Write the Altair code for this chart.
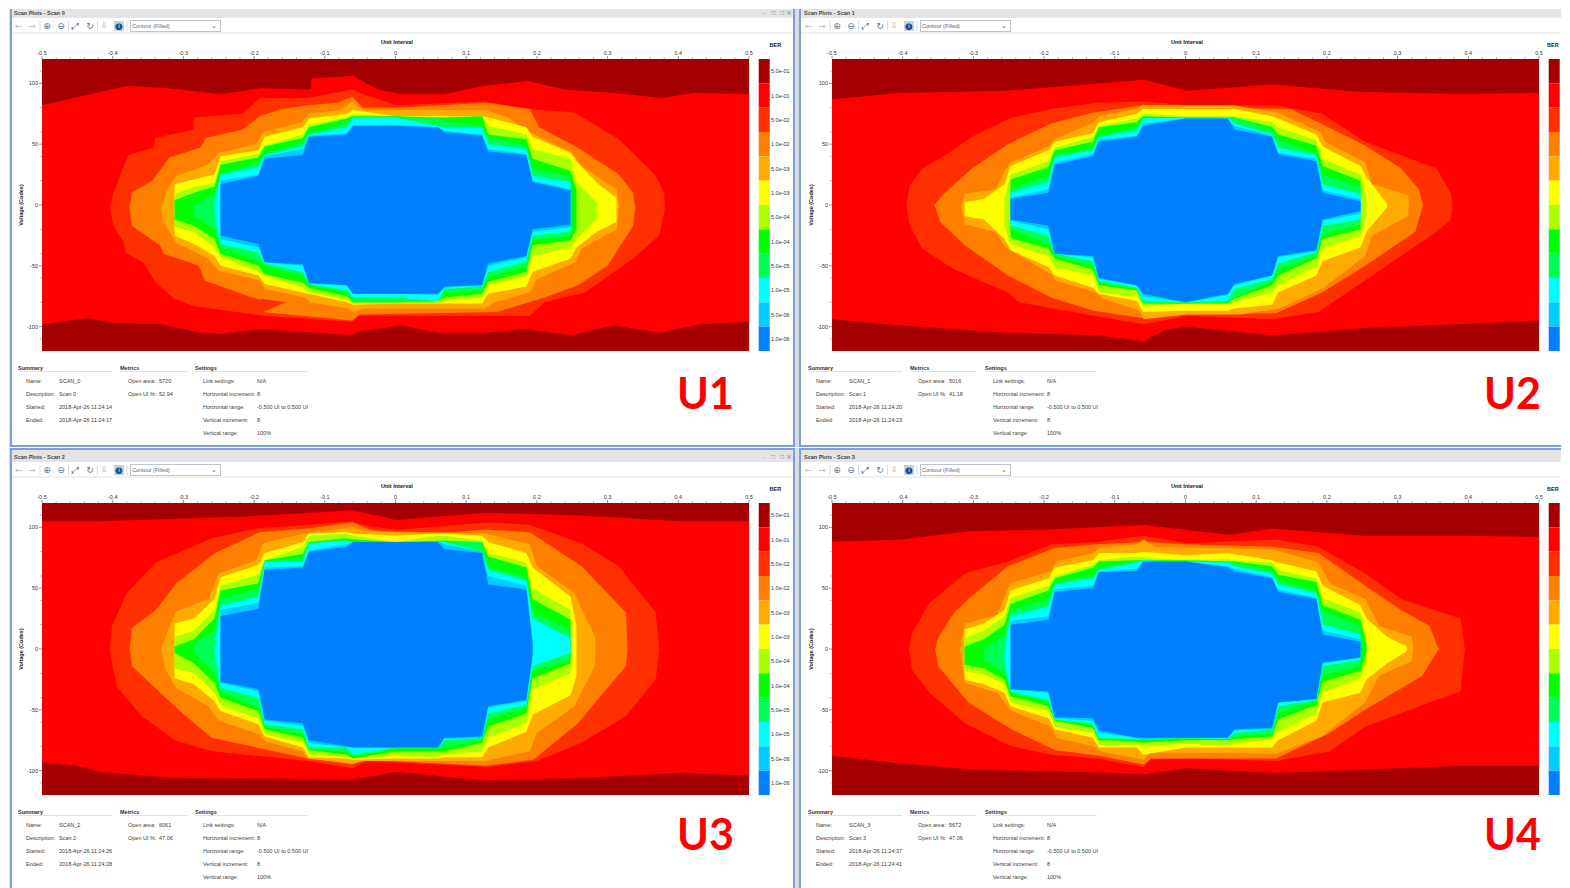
import altair as alt
import pandas as pd

LEVEL_LABELS = ["5.0e-01", "1.0e-01", "5.0e-02", "1.0e-02", "5.0e-03", "1.0e-03",
                "5.0e-04", "1.0e-04", "5.0e-05", "1.0e-05", "5.0e-06", "1.0e-06"]
LEVEL_COLORS = ["#a50000", "#ff0000", "#ff3000", "#ff8000", "#ffaa00", "#ffff00",
                "#aaff00", "#00ff00", "#00ff55", "#00ffff", "#00ccff", "#0080ff"]
X_TICKS = [-0.5, -0.4, -0.3, -0.2, -0.1, 0, 0.1, 0.2, 0.3, 0.4, 0.5]
X_LABELS = ["-0.5", "-0.4", "-0.3", "-0.2", "-0.1", "0", "0.1", "0.2", "0.3", "0.4", "0.5"]
X_MINOR = [-0.48, -0.46, -0.44, -0.42, -0.38, -0.36, -0.34, -0.32, -0.28, -0.26, -0.24, -0.22,
           -0.18, -0.16, -0.14, -0.12, -0.08, -0.06, -0.04, -0.02, 0.02, 0.04, 0.06, 0.08,
           0.12, 0.14, 0.16, 0.18, 0.22, 0.24, 0.26, 0.28, 0.32, 0.34, 0.36, 0.38,
           0.42, 0.44, 0.46, 0.48]
Y_TICKS = [100, 50, 0, -50, -100]
Y_LABELS = ["100", "50", "0", "-50", "-100"]
Y_MINOR = [110, 80, 60, 40, 20, -20, -40, -60, -80, -110]

# unit-interval positions at which the seven inner contours are read
STAIR_X = [-.3125, -.285, -.256, -.2475, -.194, -.185, -.131, -.1225, -.069, -.06, 0,
           .06, .069, .1225, .131, .185, .194, .2475, .256, .285, .3125]

# ---- U1 ---- codes of 1e-3, 5e-4, 1e-4, 5e-5, 1e-5, 5e-6, 1e-6 contours
U1_UP = [[17, 9, 4], [21, 15, 10, 0], [25, 18, 15, 9, 4], [40, 36, 33, 25, 25, 20, 17],
         [45, 42, 39, 36, 31, 25, 24], [56, 49, 48, 42, 41, 40, 38], [64, 58, 55, 52, 48, 46, 41],
         [71, 66, 64, 59, 58, 57, 56], [75, 72, 71, 67, 64, 59, 58], [78, 75, 73, 72, 72, 66, 65],
         [73, 73, 73, 72, 72, 66, 65], [73, 72, 72, 71, 65, 64, 64], [73, 72, 72, 69, 64, 61, 60],
         [73, 73, 73, 65, 64, 58, 57], [72, 65, 58, 56, 50, 46, 44], [64, 58, 54, 49, 46, 42, 41],
         [56, 46, 38, 30, 24, 20, 19], [43, 38, 28, 23, 19, 13, 12], [36, 19, 12], [18, 2], [6]]
U1_LOW = [[-25, -18, -12], [-32, -22, -17, -9], [-42, -35, -28, -20, -9],
          [-50, -43, -40, -35, -32, -28, -25], [-58, -55, -50, -46, -39, -35, -32],
          [-65, -58, -57, -50, -48, -47, -47], [-72, -68, -64, -58, -55, -50, -49],
          [-73, -72, -68, -66, -65, -65, -64], [-80, -78, -75, -72, -70, -66, -66],
          [-82, -81, -80, -80, -76, -73, -73], [-81, -81, -80, -80, -76, -73, -73],
          [-81, -81, -79, -79, -79, -74, -73], [-81, -79, -76, -72, -69, -68, -67],
          [-81, -76, -73, -70, -67, -66, -66], [-73, -66, -63, -59, -55, -50, -48],
          [-67, -59, -55, -51, -46, -43, -42], [-55, -42, -33, -29, -25, -22, -20],
          [-44, -35, -29, -25, -22, -18, -16], [-35, -28, -20], [-22, -12], [-14]]
U1_RED_UP = [(-.404, -3), (-.399, 10), (-.378, 41), (-.342, 47), (-.34, 55), (-.286, 62), (-.285, 72),
             (-.216, 75), (-.192, 88), (-.124, 88), (-.061, 95), (-.046, 91), (.002, 82), (.127, 85),
             (.19, 79), (.253, 76), (.316, 54), (.368, 24), (.38, 10), (.381, -3)]
U1_RED_LOW = [(-.404, -3), (-.399, -17), (-.384, -31), (-.382, -39), (-.357, -47), (-.339, -64), (-.313, -77),
              (-.286, -83), (-.187, -91), (-.061, -96), (-.051, -91), (.143, -91), (.19, -91), (.211, -80),
              (.268, -72), (.336, -44), (.373, -25), (.381, -3)]
U1_ORG_UP = [(-.376, -3), (-.373, 10), (-.344, 20), (-.32, 39), (-.276, 47), (-.268, 55), (-.216, 62), (-.192, 73),
             (-.161, 79), (-.124, 82), (-.082, 84), (-.061, 89), (-.046, 80), (.002, 80), (.127, 84), (.19, 79),
             (.203, 64), (.258, 47), (.316, 25), (.336, 10), (.339, -3)]
U1_ORG_LOW = [(-.376, -3), (-.373, -17), (-.333, -33), (-.328, -40), (-.278, -50), (-.27, -62), (-.208, -75),
              (-.19, -78), (-.189, -88), (-.061, -95), (-.051, -90), (.143, -88), (.211, -76), (.258, -66),
              (.3, -50), (.336, -17), (.339, -3)]
U1_TONGUE = [(-.191, -89, -77), (-.155, -80, -80)]
U1_LIT_UP = [(-.331, -3), (-.325, 10), (-.31, 24), (-.265, 33), (-.25, 43), (-.197, 50), (-.187, 60), (-.132, 68),
             (-.124, 75), (-.077, 78), (-.061, 85), (-.046, 78), (.127, 78), (.159, 72), (.189, 60), (.25, 43),
             (.263, 32), (.313, 13), (.316, -3)]
U1_LIT_LOW = [(-.331, -3), (-.328, -14), (-.31, -31), (-.265, -44), (-.25, -54), (-.192, -62), (-.184, -69),
              (-.129, -76), (-.121, -80), (-.066, -85), (-.059, -88), (-.046, -85), (.127, -85), (.14, -80),
              (.19, -72), (.2, -61), (.255, -47), (.263, -36), (.313, -20), (.316, -3)]
U1_DARK_UP = [(-.5, 82), (-.455, 88), (-.378, 98), (-.322, 96), (-.247, 91), (-.19, 96), (-.127, 95), (-.12, 95),
              (-.119, 104), (-.06, 106), (-.025, 95), (.008, 91), (.069, 91), (.125, 98), (.188, 102), (.239, 95),
              (.31, 92), (.376, 88), (.422, 92), (.5, 91)]
U1_DARK_LOW = [(-.5, -98), (-.435, -93), (-.398, -97), (-.332, -98), (-.275, -105), (-.251, -106), (-.19, -102),
               (-.063, -107), (-.052, -104), (.008, -99), (.06, -105), (.125, -105), (.182, -102), (.248, -107),
               (.309, -99), (.373, -105), (.432, -98), (.5, -96)]

# ---- U2 ----
U2_UP = [[2], [5], [17, 5], [32, 25, 21, 14, 10, 6, 5], [45, 36, 31, 24, 19, 13, 10],
         [52, 47, 45, 41, 39, 35, 33], [59, 56, 52, 47, 45, 42, 40], [68, 65, 64, 57, 56, 54, 52],
         [75, 71, 68, 64, 61, 57, 56], [79, 75, 73, 72, 71, 67, 65], [79, 73, 72, 72, 72, 71, 71],
         [79, 73, 72, 72, 72, 71, 71], [79, 73, 72, 72, 67, 65, 62], [73, 68, 64, 62, 58, 57, 56],
         [71, 64, 58, 54, 47, 43, 42], [58, 53, 49, 42, 41, 38, 36], [48, 38, 32, 25, 17, 12, 10],
         [32, 25, 20, 15, 9, 5, 3], [23, 6], [1]]
U2_LOW = [[-9], [-12], [-28, -17], [-37, -32, -27, -20, -17, -13, -12], [-51, -42, -36, -32, -25, -20, -17],
          [-58, -51, -44, -42, -40, -40, -40], [-68, -58, -53, -51, -46, -43, -42],
          [-73, -72, -66, -64, -62, -61, -60], [-79, -75, -70, -69, -68, -66, -66],
          [-88, -83, -81, -81, -79, -75, -73], [-87, -81, -81, -81, -80, -80, -80],
          [-87, -81, -81, -80, -79, -74, -73], [-85, -80, -77, -76, -69, -66, -65],
          [-82, -72, -66, -63, -61, -58, -58], [-72, -66, -58, -53, -48, -43, -42],
          [-58, -51, -44, -42, -39, -38, -37], [-46, -36, -28, -24, -17, -13, -12],
          [-35, -25, -20, -16, -12, -7, -5], [-22, -9], [-2]]
U2_RED_UP = [(-.395, 0), (-.39, 16), (-.372, 30), (-.337, 42), (-.302, 56), (-.246, 72), (-.19, 79), (-.125, 84),
             (-.059, 85), (.002, 82), (.128, 82), (.193, 75), (.254, 52), (.355, 30), (.375, 10), (.378, 0)]
U2_RED_LOW = [(-.395, 0), (-.39, -17), (-.372, -36), (-.327, -53), (-.251, -72), (-.236, -80), (-.13, -91),
              (-.059, -98), (.002, -91), (.123, -94), (.188, -88), (.244, -66), (.355, -22), (.375, -12), (.378, 0)]
U2_ORG_UP = [(-.355, 0), (-.342, 9), (-.302, 30), (-.251, 50), (-.19, 67), (-.13, 76), (-.059, 82), (.002, 80),
             (.148, 79), (.188, 68), (.254, 49), (.305, 30), (.33, 13), (.336, 0)]
U2_ORG_LOW = [(-.355, 0), (-.347, -14), (-.312, -33), (-.251, -58), (-.19, -76), (-.13, -87), (-.059, -93),
              (.002, -90), (.128, -89), (.193, -72), (.254, -50), (.325, -22), (.336, 0)]
U2_LIT_UP = [(-.317, 0), (-.312, 9), (-.269, 13), (-.256, 28), (-.247, 35), (-.193, 48), (-.185, 54), (-.13, 68),
             (-.122, 73), (-.069, 79), (-.06, 82), (.067, 82), (.13, 76), (.191, 60), (.198, 52), (.254, 35),
             (.264, 17), (.315, 8), (.316, 0)]
U2_LIT_LOW = [(-.317, 0), (-.312, -16), (-.269, -22), (-.254, -35), (-.19, -57), (-.183, -62), (-.127, -72),
              (-.117, -77), (-.064, -87), (-.059, -94), (.002, -90), (.077, -90), (.133, -85), (.193, -69),
              (.254, -42), (.264, -25), (.315, -9), (.316, 0)]
U2_DARK_UP = [(-.5, 87), (-.403, 92), (-.251, 94), (-.059, 103), (.002, 94), (.123, 99), (.244, 93), (.389, 91), (.5, 92)]
U2_DARK_LOW = [(-.5, -94), (-.403, -99), (-.251, -105), (-.125, -107), (-.059, -112), (-.029, -103), (.002, -100),
               (.123, -107), (.254, -101), (.389, -98), (.5, -95)]

# ---- U3 ----
U3_UP = [[21, 10, 2], [25, 15, 8, 4], [41, 32, 25, 15, 2], [59, 52, 48, 42, 36, 32, 27],
         [69, 61, 54, 49, 43, 38, 33], [79, 73, 73, 72, 72, 67, 65], [88, 84, 78, 75, 72, 68, 67],
         [95, 93, 88, 87, 87, 81, 80], [96, 95, 91, 90, 89, 86, 84], [95, 93, 90, 88, 88, 88, 88],
         [93, 88, 88, 88, 88, 88, 88], [95, 93, 89, 88, 88, 88, 88], [95, 93, 89, 88, 88, 86, 82],
         [93, 89, 88, 88, 80, 80, 79], [88, 79, 76, 68, 65, 60, 53], [79, 71, 67, 59, 56, 52, 49],
         [67, 50, 41, 30, 25, 6, 5], [43, 32, 24, 16, 9], [19]]
U3_LOW = [[-24, -16, -3], [-29, -20, -12, -3], [-43, -36, -28, -20, -3], [-51, -46, -40, -35, -32, -28, -27],
          [-62, -57, -51, -48, -40, -35, -33], [-72, -70, -66, -64, -62, -59, -58],
          [-81, -77, -73, -70, -66, -63, -61], [-89, -87, -83, -82, -81, -77, -75],
          [-90, -89, -87, -85, -81, -81, -80], [-91, -90, -90, -88, -87, -81, -81],
          [-90, -88, -84, -82, -81, -81, -81], [-90, -89, -84, -82, -81, -81, -81],
          [-89, -87, -84, -81, -75, -74, -73], [-89, -84, -77, -75, -73, -73, -72],
          [-81, -73, -64, -58, -53, -48, -47], [-68, -61, -53, -48, -46, -43, -42],
          [-54, -33, -24, -18, -14, -6, -5], [-38, -20, -12, -9, -3], [-22]]
U3_RED_UP = [(-.404, 0), (-.401, 19), (-.38, 46), (-.339, 71), (-.26, 91), (-.197, 99), (-.124, 102), (-.061, 105),
             (-.04, 101), (.002, 98), (.132, 104), (.19, 102), (.263, 87), (.316, 68), (.368, 30), (.373, 0)]
U3_RED_LOW = [(-.404, 0), (-.401, -12), (-.394, -31), (-.359, -55), (-.312, -75), (-.26, -84), (-.124, -92),
              (-.061, -98), (-.04, -92), (.132, -97), (.2, -92), (.263, -77), (.326, -55), (.368, -25), (.373, 0)]
U3_ORG_UP = [(-.376, 0), (-.373, 17), (-.339, 32), (-.31, 54), (-.255, 79), (-.192, 96), (-.124, 99), (-.061, 104),
             (-.04, 99), (.002, 93), (.127, 98), (.19, 96), (.263, 68), (.326, 30), (.328, 0)]
U3_ORG_LOW = [(-.376, 0), (-.373, -14), (-.307, -50), (-.26, -73), (-.124, -90), (-.061, -95), (-.04, -91),
              (.127, -96), (.195, -91), (.258, -61), (.326, -14), (.328, 0)]
U3_LIT_UP = [(-.331, 0), (-.325, 10), (-.31, 31), (-.265, 41), (-.25, 62), (-.197, 73), (-.187, 87), (-.129, 95),
             (-.061, 100), (-.046, 97), (.127, 95), (.19, 86), (.2, 68), (.253, 46), (.282, 10), (.283, 0)]
U3_LIT_LOW = [(-.331, 0), (-.325, -17), (-.31, -32), (-.265, -47), (-.25, -59), (-.192, -70), (-.184, -76),
              (-.132, -84), (-.124, -90), (-.061, -94), (-.046, -92), (.127, -92), (.19, -84), (.2, -69),
              (.253, -47), (.282, -14), (.283, 0)]
U3_DARK_UP = [(-.5, 105), (-.417, 105), (-.208, 109), (-.061, 114), (.002, 106), (.127, 112), (.253, 110), (.403, 105), (.5, 105)]
U3_DARK_LOW = [(-.5, -93), (-.45, -96), (-.417, -101), (-.312, -106), (-.061, -107), (.002, -101), (.127, -108),
               (.263, -106), (.403, -102), (.5, -104)]

# ---- U4 ----
U4_UP = [[16, 9, 2], [21, 15, 8, 0], [32, 27, 20, 12, 0], [48, 42, 37, 32, 27, 23, 20],
         [58, 52, 48, 41, 35, 27, 24], [67, 60, 58, 54, 53, 49, 47], [73, 69, 67, 61, 58, 52, 50],
         [79, 73, 72, 67, 65, 64, 63], [79, 76, 73, 73, 71, 66, 64], [80, 75, 73, 73, 73, 72, 72],
         [77, 73, 73, 72, 72, 72, 72], [79, 74, 72, 72, 71, 68, 67], [78, 73, 72, 71, 68, 66, 64],
         [73, 71, 68, 65, 62, 59, 58], [71, 65, 61, 57, 53, 49, 47], [64, 58, 55, 48, 46, 42, 41],
         [52, 42, 36, 31, 20, 15, 12], [36, 30, 24, 19, 12, 8, 6], [25, 8, 4], [10], [2]]
U4_LOW = [[-25, -18, -13], [-29, -21, -16, -9], [-36, -29, -25, -20, -12],
          [-47, -44, -39, -36, -35, -33, -33], [-57, -51, -47, -43, -42, -36, -35],
          [-66, -64, -59, -58, -58, -57, -56], [-73, -69, -65, -63, -61, -59, -57],
          [-81, -79, -75, -74, -73, -69, -67], [-81, -79, -76, -75, -74, -73, -73],
          [-87, -80, -77, -75, -74, -74, -73], [-81, -78, -75, -74, -73, -73, -73],
          [-81, -79, -75, -74, -74, -73, -73], [-81, -78, -74, -72, -69, -67, -66],
          [-81, -74, -72, -70, -66, -66, -65], [-75, -68, -58, -53, -47, -44, -44],
          [-59, -53, -46, -43, -42, -41, -41], [-44, -36, -27, -22, -14, -12, -11],
          [-36, -24, -18, -14, -9, -7, -7], [-25, -12, -3], [-12], [-2]]
U4_RED_UP = [(-.391, 0), (-.387, 13), (-.362, 38), (-.312, 62), (-.251, 72), (-.19, 86), (-.125, 88), (-.059, 93),
             (.002, 87), (.128, 90), (.188, 84), (.254, 62), (.305, 41), (.389, 25), (.395, 0)]
U4_RED_LOW = [(-.391, 0), (-.387, -17), (-.362, -36), (-.312, -61), (-.251, -79), (-.19, -87), (-.125, -90),
              (-.059, -97), (-.049, -91), (.002, -90), (.128, -92), (.204, -84), (.254, -64), (.355, -42),
              (.389, -35), (.395, 0)]
U4_ORG_UP = [(-.354, 0), (-.35, 9), (-.327, 30), (-.307, 41), (-.251, 68), (-.185, 83), (-.125, 86), (-.059, 88),
             (.002, 86), (.123, 84), (.188, 79), (.254, 52), (.305, 32), (.345, 19), (.358, 0)]
U4_ORG_LOW = [(-.354, 0), (-.35, -14), (-.307, -44), (-.246, -66), (-.185, -83), (-.12, -88), (-.059, -95),
              (-.049, -90), (.128, -90), (.204, -69), (.254, -50), (.335, -22), (.358, 0)]
U4_LIT_UP = [(-.319, 0), (-.312, 21), (-.266, 28), (-.248, 54), (-.19, 64), (-.183, 72), (-.13, 79), (-.122, 83),
             (-.069, 86), (-.059, 90), (-.044, 84), (.123, 82), (.188, 71), (.204, 54), (.254, 41), (.274, 19),
             (.32, 10), (.322, 0)]
U4_LIT_LOW = [(-.319, 0), (-.312, -28), (-.266, -36), (-.246, -51), (-.19, -64), (-.183, -73), (-.13, -80),
              (-.12, -84), (-.059, -91), (-.049, -85), (.128, -86), (.193, -72), (.254, -44), (.274, -22),
              (.32, -10), (.322, 0)]
U4_DARK_UP = [(-.5, 88), (-.403, 90), (-.302, 97), (-.2, 98), (-.059, 102), (.062, 94), (.123, 99), (.254, 93), (.389, 93), (.5, 92)]
U4_DARK_LOW = [(-.5, -88), (-.403, -94), (-.302, -99), (-.15, -101), (-.059, -103), (.002, -98), (.128, -102),
               (.254, -99), (.389, -96), (.5, -96)]

SCANS = [
    dict(n=0, tag="U1", area="5720", ui="52.94", start="11:24:14", end="11:24:17", hr="-0.500 UI to 0.500 UI",
         up=U1_UP, low=U1_LOW, outer=[(U1_RED_UP, U1_RED_LOW), (U1_ORG_UP, U1_ORG_LOW), (U1_LIT_UP, U1_LIT_LOW)],
         dark=(U1_DARK_UP, U1_DARK_LOW), tongue=U1_TONGUE),
    dict(n=1, tag="U2", area="5016", ui="41.18", start="11:24:20", end="11:24:23", hr="-0.500 UI to 0.500 UI",
         up=U2_UP, low=U2_LOW, outer=[(U2_RED_UP, U2_RED_LOW), (U2_ORG_UP, U2_ORG_LOW), (U2_LIT_UP, U2_LIT_LOW)],
         dark=(U2_DARK_UP, U2_DARK_LOW)),
    dict(n=2, tag="U3", area="6061", ui="47.06", start="11:24:26", end="11:24:28", hr="-0.500 UI to 0.500 UI",
         up=U3_UP, low=U3_LOW, outer=[(U3_RED_UP, U3_RED_LOW), (U3_ORG_UP, U3_ORG_LOW), (U3_LIT_UP, U3_LIT_LOW)],
         dark=(U3_DARK_UP, U3_DARK_LOW)),
    dict(n=3, tag="U4", area="5672", ui="47.06", start="11:24:37", end="11:24:41", hr="-0.500 UI to 0.500 UI",
         up=U4_UP, low=U4_LOW, outer=[(U4_RED_UP, U4_RED_LOW), (U4_ORG_UP, U4_ORG_LOW), (U4_LIT_UP, U4_LIT_LOW)],
         dark=(U4_DARK_UP, U4_DARK_LOW)),
]

W, H = 707, 292
COL_X = [41, 831]
ROW_Y = [58, 502]
PAGE_RIGHT = 1560
FONT = "Liberation Sans"
XS = alt.Scale(domain=[-0.5, 0.5], nice=False, zero=False)
YS = alt.Scale(domain=[-120, 120], nice=False, zero=False)


def ux(vx):  # view pixels to the plot's own scale, for window furniture only
    return vx / W - 0.5


def uy(vy):
    return 120 - vy / H * 240


X_PLAIN = alt.X("x:Q", scale=XS, axis=None)
Y_PLAIN = alt.Y("y:Q", scale=YS, axis=None)


def contour(rows_up, rows_low, color):
    recs = []
    for half, pts, base in (("u", rows_up, -0.4), ("l", rows_low, 0.4)):
        for x, y in pts:
            recs.append(dict(x=x, y=y, b=base, half=half))
    return alt.Chart(pd.DataFrame(recs)).mark_area(color=color, opacity=1).encode(
        x=X_PLAIN, y=Y_PLAIN, y2="b:Q", detail="half:N")


def dark(pts, base, color):
    df = pd.DataFrame([dict(x=x, y=y, b=base) for x, y in pts])
    return alt.Chart(df).mark_area(color=color, opacity=1).encode(
        x=X_PLAIN, y=Y_PLAIN, y2="b:Q")


def patch(pts, color):
    df = pd.DataFrame([dict(x=x, y=y, b=b) for x, y, b in pts])
    return alt.Chart(df).mark_area(color=color, opacity=1).encode(
        x=X_PLAIN, y=Y_PLAIN, y2="b:Q")


def stair(up, low, idx):
    def pick(rows):
        return [(STAIR_X[k], r[idx]) for k, r in enumerate(rows) if idx < len(r)]
    return pick(up), pick(low)


def rects(items):
    df = pd.DataFrame([dict(x=ux(a), x2=ux(b), y=uy(c), y2=uy(d), c=e) for a, b, c, d, e in items])
    return alt.Chart(df).mark_rect(opacity=1).encode(
        x=X_PLAIN, x2="x2:Q", y=Y_PLAIN, y2="y2:Q",
        color=alt.Color("c:N", scale=None, legend=None))


def texts(items, font=FONT, weight="normal", align="left", angle=None):
    df = pd.DataFrame([dict(x=ux(a), y=uy(b), t=c, c=d, s=e) for a, b, c, d, e in items])
    kw = dict(font=font, fontWeight=weight, align=align, baseline="middle")
    if angle is not None:
        kw["angle"] = angle
    return alt.Chart(df).mark_text(**kw).encode(
        x=X_PLAIN, y=Y_PLAIN, text="t:N",
        color=alt.Color("c:N", scale=None, legend=None),
        size=alt.Size("s:Q", scale=None, legend=None))


def panel(s):
    col = s["n"] % 2
    row = s["n"] // 2
    ox, oy = COL_X[col], ROW_Y[row]
    px, py = (lambda v: v - ox), (lambda v: v - oy)
    top = 8 if row == 0 else 447
    bottom = 446 if row == 0 else 888
    left = 8 if col == 0 else 795
    right = 797 if col == 0 else PAGE_RIGHT
    fl = 9 if col == 0 else 798
    fr = 794 if col == 0 else PAGE_RIGHT
    il = fl + 2
    ir = fr - 2 if col == 0 else PAGE_RIGHT
    bar = top if row == 0 else top + 2
    dy = 0 if row == 0 else 444
    dx = 0 if col == 0 else 790
    ib = 444 if row == 0 else 888
    chrome = [
        (px(left), px(right), py(top), py(bottom), "#d9dde6"),
        (px(fl), px(fr), py(top), py(ib + (2 if row == 0 else 0)), "#7f9fd6"),
        (px(il), px(ir), py(bar), py(ib), "#ffffff"),
        (px(il), px(ir), py(bar), py(17 + dy), "#e4e4e4"),
        (px(il), px(ir), py(31 + dy), py(33 + dy), "#f1f1f1"),
        (px(38.5 + dx), px(39.5 + dx), py(20 + dy), py(30 + dy), "#dddddd"),
        (px(67 + dx), px(68 + dx), py(20 + dy), py(30 + dy), "#dddddd"),
        (px(96 + dx), px(97 + dx), py(20 + dy), py(30 + dy), "#dddddd"),
        (px(125.5 + dx), px(126.5 + dx), py(20 + dy), py(30 + dy), "#dddddd"),
        (px(113 + dx), px(123 + dx), py(20 + dy), py(30 + dy), "#c9d3e0"),
        (px(129 + dx), px(220 + dx), py(19 + dy), py(31 + dy), "#bcc4cf"),
        (px(130 + dx), px(219 + dx), py(20 + dy), py(30 + dy), "#ffffff"),
        (px(17 + dx), px(111 + dx), py(370 + dy), py(371 + dy), "#e2e2e2"),
        (px(119 + dx), px(186 + dx), py(370 + dy), py(371 + dy), "#e2e2e2"),
        (px(194 + dx), px(306 + dx), py(370 + dy), py(371 + dy), "#e2e2e2"),
    ]
    layers = [rects(chrome)]

    base = pd.DataFrame(dict(x=[-0.5], x2=[0.5], y=[-120], y2=[120]))
    layers.append(alt.Chart(base).mark_rect(color=LEVEL_COLORS[1], opacity=1).encode(
        x=X_PLAIN, x2="x2:Q", y=Y_PLAIN, y2="y2:Q"))

    # ticks and tick labels, through the same scales as the contours
    layers.append(alt.Chart(pd.DataFrame(dict(x=X_MINOR))).mark_rule(color="#999999", strokeWidth=0.7).encode(
        x=X_PLAIN, y=alt.value(-2), y2=alt.value(0)))
    layers.append(alt.Chart(pd.DataFrame(dict(y=Y_MINOR))).mark_rule(color="#999999", strokeWidth=0.7).encode(
        y=Y_PLAIN, x=alt.value(-2), x2=alt.value(0)))
    layers.append(alt.Chart(pd.DataFrame(dict(x=X_TICKS))).mark_rule(color="#777777", strokeWidth=0.8).encode(
        x=X_PLAIN, y=alt.value(-3), y2=alt.value(0)))
    layers.append(alt.Chart(pd.DataFrame(dict(y=Y_TICKS))).mark_rule(color="#777777", strokeWidth=0.8).encode(
        y=Y_PLAIN, x=alt.value(-3), x2=alt.value(0)))
    xl = pd.DataFrame(dict(x=X_TICKS, t=X_LABELS, y=[uy(-6.5)] * len(X_TICKS)))
    layers.append(alt.Chart(xl).mark_text(font=FONT, fontSize=5.5, color="#333333", align="center",
                                          baseline="middle").encode(x=X_PLAIN, y=Y_PLAIN, text="t:N"))
    yl = pd.DataFrame(dict(y=Y_TICKS, t=Y_LABELS, x=[ux(-4)] * len(Y_TICKS)))
    layers.append(alt.Chart(yl).mark_text(font=FONT, fontSize=5.5, color="#333333", align="right",
                                          baseline="middle").encode(x=X_PLAIN, y=Y_PLAIN, text="t:N"))

    for k, (u, l) in enumerate(s["outer"]):
        layers.append(contour(u, l, LEVEL_COLORS[2 + k]))
        if k == 1 and "tongue" in s:
            layers.append(patch(s["tongue"], LEVEL_COLORS[2]))
    for k in range(7):
        u, l = stair(s["up"], s["low"], k)
        layers.append(contour(u, l, LEVEL_COLORS[5 + k]))
    layers.append(dark(s["dark"][0], 120, LEVEL_COLORS[0]))
    layers.append(dark(s["dark"][1], -120, LEVEL_COLORS[0]))

    n = len(LEVEL_LABELS)
    step = 240 / n
    bar_df = pd.DataFrame(dict(
        lab=LEVEL_LABELS,
        c=LEVEL_COLORS,
        x=[ux(716.7)] * n, x2=[ux(727.7)] * n, tx=[ux(729)] * n,
        y=[120 - i * step for i in range(n)],
        y2=[120 - (i + 1) * step for i in range(n)],
        mid=[120 - (i + .5) * step for i in range(n)]))
    layers.append(alt.Chart(bar_df).mark_rect(opacity=1).encode(
        x=X_PLAIN, x2="x2:Q", y=Y_PLAIN, y2="y2:Q",
        color=alt.Color("c:N", scale=None, legend=None)))
    if col == 0:
        layers.append(alt.Chart(bar_df).mark_text(
            align="left", baseline="middle", font=FONT, fontSize=5.5, color="#333333").encode(
            x=alt.X("tx:Q", scale=XS, axis=None), y=alt.Y("mid:Q", scale=YS, axis=None), text="lab:N"))

    g = "#3c3c3c"
    lines = [
        (px(25 + dx), py(380 + dy), "Name:", g, 5.5),
        (px(25 + dx), py(393 + dy), "Description:", g, 5.5),
        (px(25 + dx), py(406 + dy), "Started:", g, 5.5),
        (px(25 + dx), py(419 + dy), "Ended:", g, 5.5),
        (px(58 + dx), py(380 + dy), f"SCAN_{s['n']}", g, 5.5),
        (px(58 + dx), py(393 + dy), f"Scan {s['n']}", g, 5.5),
        (px(58 + dx), py(406 + dy), f"2018-Apr-26 {s['start']}", g, 5.5),
        (px(58 + dx), py(419 + dy), f"2018-Apr-26 {s['end']}", g, 5.5),
        (px(127 + dx), py(380 + dy), "Open area:", g, 5.5),
        (px(127 + dx), py(393 + dy), "Open UI %:", g, 5.5),
        (px(158 + dx), py(380 + dy), s["area"], g, 5.5),
        (px(158 + dx), py(393 + dy), s["ui"], g, 5.5),
        (px(202 + dx), py(380 + dy), "Link settings:", g, 5.5),
        (px(202 + dx), py(393 + dy), "Horizontal increment:", g, 5.5),
        (px(202 + dx), py(406 + dy), "Horizontal range:", g, 5.5),
        (px(202 + dx), py(419 + dy), "Vertical increment:", g, 5.5),
        (px(202 + dx), py(432 + dy), "Vertical range:", g, 5.5),
        (px(256 + dx), py(380 + dy), "N/A", g, 5.5),
        (px(256 + dx), py(393 + dy), "8", g, 5.5),
        (px(256 + dx), py(406 + dy), s["hr"], g, 5.5),
        (px(256 + dx), py(419 + dy), "8", g, 5.5),
        (px(256 + dx), py(432 + dy), "100%", g, 5.5),
        (px(131 + dx), py(25 + dy), "Contour (Filled)", "#666666", 5.5),
    ]
    layers.append(texts(lines))

    ber_x = 768.5 + dx if col == 0 else 1546
    bold = [
        (px(13 + dx), py(12 + dy), f"Scan Plots - Scan {s['n']}", "#444444", 5.5),
        (px(380 + dx), py(41 + dy), "Unit Interval", "#111111", 5.5),
        (px(ber_x), py(44 + dy), "BER", "#222222", 5.5),
        (px(17 + dx), py(367 + dy), "Summary", "#333333", 5.5),
        (px(119 + dx), py(367 + dy), "Metrics", "#333333", 5.5),
        (px(194 + dx), py(367 + dy), "Settings", "#333333", 5.5),
    ]
    layers.append(texts(bold, weight="bold"))
    layers.append(texts([(px(19.5 + dx), py(204 + dy), "Voltage (Codes)", "#222222", 5.5)],
                        weight="bold", align="center", angle=270))

    icon = "#98a4b4"
    glyphs = [
        (px(17.5 + dx), py(25 + dy), "←", "#b9bec6", 9),
        (px(31 + dx), py(25 + dy), "→", "#b9bec6", 9),
        (px(46 + dx), py(25 + dy), "⊕", "#5a7698", 9),
        (px(60 + dx), py(25 + dy), "⊖", "#5a7698", 9),
        (px(74.5 + dx), py(25 + dy), "⤢", "#5a7698", 9),
        (px(89 + dx), py(25 + dy), "↻", "#5a7698", 9),
        (px(103 + dx), py(25 + dy), "⇩", icon, 8),
        (px(118 + dx), py(25 + dy), "●", "#1f4f86", 9),
        (px(118 + dx), py(25 + dy), "i", "#ffffff", 6),
        (px(213 + dx), py(25 + dy), "⌄", "#666666", 7),
    ]
    if col == 0:
        glyphs += [
            (px(763), py(12 + dy), "–", "#888888", 6),
            (px(772), py(12 + dy), "❐", "#999999", 5),
            (px(781), py(12 + dy), "❐", "#999999", 5),
            (px(788), py(12 + dy), "×", "#888888", 7),
        ]
    layers.append(texts(glyphs, font="DejaVu Sans", align="center"))

    tag_x = 704.5 if col == 0 else 1511.5
    tag_y = 395 if row == 0 else 836
    layers.append(texts([(px(tag_x), py(tag_y), s["tag"], "#ff0000", 43)],
                        font="Lato", weight="bold", align="center"))

    return alt.layer(*layers).properties(width=W, height=H)


chart = alt.concat(*[panel(s) for s in SCANS], columns=2, spacing={"column": 83, "row": 152}, bounds="flush") \
    .properties(padding=0) \
    .configure_view(stroke=None) \
    .configure(background="white")
chart.save("out.html", embed_options={"renderer": "svg", "actions": False})
